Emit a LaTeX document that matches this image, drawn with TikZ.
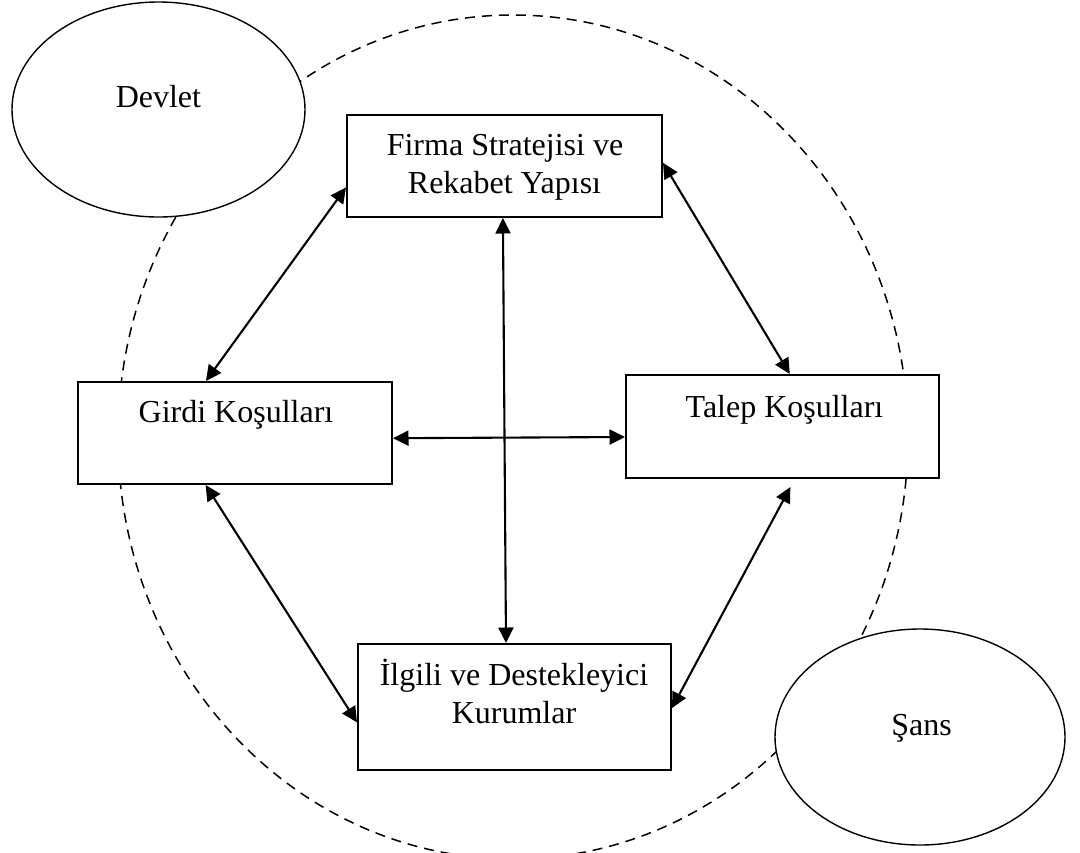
\documentclass[tikz,border=0pt]{standalone}
\usepackage{fontspec}
\setmainfont{Liberation Serif}
\usetikzlibrary{arrows.meta,calc,shapes.geometric}
\begin{document}
\begin{tikzpicture}[x=0.5pt,y=-0.5pt,
 box/.style={draw,line width=1pt,fill=white,inner sep=0pt},
 oval/.style={draw,ellipse,line width=0.7pt,fill=white,inner sep=0pt},
 lbl/.style={anchor=base,inner sep=0pt,font=\fontsize{16}{19.5}\selectfont},
 link/.style={line width=1.05pt,{Triangle[length=7.75pt,width=7.5pt]}-{Triangle[length=7.75pt,width=7.5pt]}},
 ring/.style={line width=0.75pt,dash pattern=on 5pt off 3.5pt}]

\fill[white] (0,0) rectangle (1080,852);
\path[use as bounding box] (0,0) rectangle (1080,852);

\draw[ring] (513,437) ellipse [x radius=197.5pt, y radius=211pt];

\node[oval,minimum width=146.5pt,minimum height=107.5pt] (devlet) at (158.5,109.5) {};
\node[oval,minimum width=145pt,minimum height=108pt] (sans) at (920,737) {};
\node[box,minimum width=157.5pt,minimum height=51pt] (firma) at (504.5,166) {};
\node[box,minimum width=157pt,minimum height=51pt] (girdi) at (235,433) {};
\node[box,minimum width=156.5pt,minimum height=51.5pt] (talep) at (782.5,426.5) {};
\node[box,minimum width=156.5pt,minimum height=63pt] (ilgili) at (514.5,707) {};

\node[lbl] (devletA) at (158.4,107) {Devlet};
\node[lbl] (sansA) at (921.5,735) {Şans};
\node[lbl] (firmaA) at (505,155) {Firma Stratejisi ve};
\node[lbl] (firmaB) at (504.5,193) {Rekabet Yapısı};
\node[lbl] (girdiA) at (236,422) {Girdi Koşulları};
\node[lbl] (talepA) at (784.5,417) {Talep Koşulları};
\node[lbl] (ilgiliA) at (514,685) {İlgili ve Destekleyici};
\node[lbl] (ilgiliB) at (514,723) {Kurumlar};

\draw[link] ($(girdi.north west)!0.408!(girdi.north east)$) -- ($(firma.north west)!0.706!(firma.south west)$);
\draw[link] ($(firma.north east)!0.47!(firma.south east)$) -- ($(talep.north west)!0.523!(talep.north east)$);
\draw[link] ($(firma.south west)!0.495!(firma.south east)$) -- ($(ilgili.north west)!0.473!(ilgili.north east)$);
\draw[link] ($(girdi.north east)!0.55!(girdi.south east)$) -- ($(talep.north west)!0.60!(talep.south west)$);
\draw[link] ($(girdi.south west)!0.407!(girdi.south east)$) -- ($(ilgili.north west)!0.62!(ilgili.south west)$);
\draw[link] ($(talep.south west)!0.525!(talep.south east) + (0,8)$) -- ($(ilgili.north east)!0.508!(ilgili.south east)$);
\end{tikzpicture}
\end{document}
